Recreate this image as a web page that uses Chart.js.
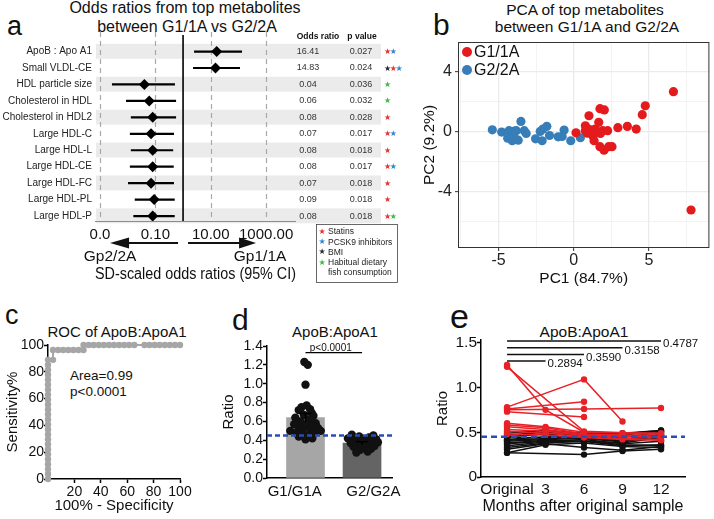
<!DOCTYPE html>
<html><head><meta charset="utf-8">
<script src="https://cdn.jsdelivr.net/npm/chart.js@4.4.1/dist/chart.umd.min.js"></script>
<style>
html,body{margin:0;padding:0;background:#fff;}
#root{position:relative;width:714px;height:519px;overflow:hidden;font-family:"Liberation Sans",Arial,sans-serif;color:#111;}
canvas{position:absolute;}
.t{position:absolute;white-space:nowrap;line-height:1;}
</style></head><body><div id="root"></div>
<script>
// ---------- Panel a: forest plot ----------
const metabolites = ['ApoB : Apo A1','Small VLDL-CE','HDL particle size','Cholesterol in HDL','Cholesterol in HDL2','Large HDL-C','Large HDL-L','Large HDL-CE','Large HDL-FC','Large HDL-PL','Large HDL-P'];
const oddsRatio = [16.41,14.83,0.04,0.06,0.08,0.07,0.08,0.08,0.07,0.09,0.08];
const ciLow  = [2.5,2.3,0.0027,0.0087,0.013,0.012,0.013,0.012,0.0103,0.018,0.016];
const ciHigh = [135,114,0.51,0.56,0.56,0.47,0.44,0.46,0.47,0.50,0.50];
const pValues = ['0.027','0.024','0.036','0.032','0.028','0.017','0.018','0.017','0.018','0.018','0.018'];
const adjustStars = [['S','P'],['B','S','P'],['F'],['F'],['S'],['S','P'],['S'],['S','P'],['S'],['S'],['S','F']];
const starLegend = [['S','Statins'],['P','PCSK9 inhibitors'],['B','BMI'],['F','Habitual dietary'],['','fish consumption']];
const xTickValuesA = [0.001,0.1,10,1000];
const xTickLabelsA = ['0.0','0.10','10.00','1000.00'];
// ---------- Panel b: PCA ----------
const pcaG1PC1 = [0.15,0.77,0.97,1.01,0.77,1.21,1.43,1.66,1.74,2.03,1.92,2.25,1.77,1.26,1.35,1.74,2.01,2.32,2.54,2.93,3.56,4.15,4.55,4.75,6.62,7.79,1.10,1.55,0.90];
const pcaG1PC2 = [-0.07,0.40,0.18,1.07,0.07,0.11,0.18,0.63,1.54,1.46,0.07,0.07,-0.11,-0.27,-0.60,-1.00,-1.23,-1.00,-1.00,0.27,0.36,0.18,1.14,1.74,2.68,-5.23,-0.05,0.00,-0.10];
const pcaG2PC1 = [-5.41,-4.79,-4.30,-3.82,-3.51,-3.29,-3.16,-4.39,-4.09,-3.69,-3.99,-2.54,-2.23,-2.05,-1.79,-2.10,-1.61,-1.04,-0.77,-0.64,-0.20,0.44,-4.15,-3.95];
const pcaG2PC2 = [0.13,-0.02,0.07,0.07,0.69,0.07,-0.11,-0.43,-0.60,-0.56,-0.27,-0.47,0.02,0.18,0.36,-0.60,-0.25,-0.34,-0.31,0.11,-0.60,-0.40,-0.05,0.05];
// ---------- Panel c: ROC ----------
const rocFPR  = [0,0,0,0,0,0,0,0,0,0,0,0,0,0,0,0,0,0,0,0,0,0,0,0,0,3.8,3.8,7.7,11.5,15.4,19.2,23.1,26.9,26.9,30.8,34.6,38.5,42.3,46.2,50,53.8,57.7,61.5,65.4,73.1,76.9,80.8,84.6,88.5,92.3,96.2,100];
const rocSens = [0,3.7,7.4,11.1,14.8,18.5,22.2,25.9,29.6,33.3,37,40.7,44.4,48.1,51.9,55.6,59.3,63,66.7,70.4,74.1,77.8,81.5,85.2,88.9,88.9,96.3,96.3,96.3,96.3,96.3,96.3,96.3,100,100,100,100,100,100,100,100,100,100,100,100,100,100,100,100,100,100,100];
// ---------- Panel d: bar + points ----------
const barGroups = ['G1/G1A','G2/G2A'];
const barMeans = [0.64,0.37];
const barSem = [0.045,0.015];
const barLabelPos = [-0.19,1.2];
const g1Values = [1.23,1.20,0.99,0.77,0.75,0.73,0.72,0.69,0.67,0.66,0.64,0.62,0.60,0.58,0.57,0.57,0.55,0.54,0.53,0.52,0.51,0.50,0.50,0.48,0.47,0.46,0.45,0.44,0.42,0.41];
const g1Jitter = [-0.02,0.04,0.0,0.02,-0.07,0.08,-0.12,0.11,-0.03,0.14,-0.18,0.06,-0.09,0.18,-0.2,0.02,0.12,-0.12,0.22,-0.04,0.09,-0.27,0.27,-0.16,0.15,-0.06,0.04,-0.12,0.12,0.0];
const g2Values = [0.46,0.45,0.44,0.43,0.42,0.41,0.41,0.40,0.39,0.38,0.38,0.37,0.36,0.35,0.34,0.33,0.32,0.31,0.30,0.28,0.27];
const g2Jitter = [-0.18,0.2,-0.05,0.12,-0.25,0.05,0.25,-0.12,0.17,-0.02,0.28,-0.2,0.1,-0.08,0.22,-0.15,0.05,0.16,-0.03,0.1,-0.1];
const ratioThreshold = 0.45;
// ---------- Panel e: longitudinal ----------
const months = [0,3,6,9,12];
const monthLabels = ['Original','3','6','9','12'];
const redSubjects = [
  [1.25,0.75,0.50,null,null],[1.23,null,0.51,null,0.48],[0.78,null,1.09,0.62,null],[0.76,null,0.84,null,null],
  [0.75,null,0.76,null,0.77],[0.73,null,0.67,null,null],[0.60,0.56,0.50,0.49,0.49],[0.58,0.55,0.48,0.47,0.47],
  [0.56,0.53,0.47,0.46,0.45],[0.53,0.51,0.46,0.45,0.44],[0.51,0.49,0.45,0.43,0.42],[0.48,0.47,0.44,0.42,0.41]];
const blackSubjects = [
  [0.27,null,0.25,0.29,0.31],[0.27,0.36,0.38,0.34,0.33],[0.31,0.37,0.33,0.30,0.34],[0.33,0.38,0.40,0.36,0.35],
  [0.35,0.39,0.40,0.35,0.36],[0.37,0.40,0.42,0.37,0.40],[0.38,0.41,0.40,0.38,0.44],[0.40,0.42,0.43,0.39,0.46],
  [0.41,0.43,0.44,0.40,0.47],[0.42,0.45,0.45,0.41,0.48],[0.44,0.44,0.46,0.44,0.50],[0.45,0.48,0.47,0.47,0.51],
  [0.47,0.50,0.48,0.48,0.52],[0.49,0.52,0.49,0.49,0.52]];
const sigMonths = [12,9,6,3];
const sigLabels = ['0.4787','0.3158','0.3590','0.2894'];

// ================= rendering =================
const FONT = "'Liberation Sans', Arial, sans-serif";
Chart.defaults.font.family = FONT;
Chart.defaults.color = '#111';
Chart.defaults.animation = false;
Chart.defaults.responsive = false;
Chart.defaults.events = [];
Chart.defaults.plugins.legend.display = false;
Chart.defaults.plugins.tooltip.enabled = false;

const root = document.getElementById('root');
function mk(left, top, w, h) {
  const c = document.createElement('canvas');
  c.width = w; c.height = h; c.style.left = left + 'px'; c.style.top = top + 'px';
  c.style.width = w + 'px'; c.style.height = h + 'px';
  root.appendChild(c); return c;
}
function txt(s, x, base, size, align) {
  const d = document.createElement('div'); d.className = 't'; d.textContent = s;
  d.style.fontSize = size + 'px'; d.style.top = (base - 0.847 * size) + 'px'; d.style.left = x + 'px';
  if (align === 'center') d.style.transform = 'translateX(-50%)';
  root.appendChild(d);
}
const starColors = {S:'#e8302e', P:'#2e86d6', B:'#2a2a2a', F:'#3dba3d'};

// ---- texts
txt('a', 7, 36, 27);
txt('Odds ratios from top metabolites', 185, 14, 16, 'center');
txt('between G1/1A vs G2/2A', 187, 33, 16, 'center');
txt('b', 433, 35, 30);
txt('PCA of top metabolites', 585, 15, 15.5, 'center');
txt('between G1/1A and G2/2A', 587, 32, 15.5, 'center');
txt('c', 5, 325, 27);
txt('ROC of ApoB:ApoA1', 117, 337, 15, 'center');
txt('Area=0.99', 70, 380, 13.5);
txt('p<0.0001', 70, 396, 13.5);
txt('d', 232, 330, 30);
txt('ApoB:ApoA1', 335, 337, 15, 'center');
txt('e', 450, 328, 34);
txt('ApoB:ApoA1', 584, 337, 15.5, 'center');

// ---- Panel a
const forestPlugin = {
  id: 'forest',
  beforeDatasetsDraw(chart) {
    const {ctx, chartArea: ca, scales: {x, y}} = chart;
    ctx.save();
    const step = y.getPixelForValue(1) - y.getPixelForValue(0);
    ctx.fillStyle = '#ebebeb';
    metabolites.forEach((_, i) => {
      if (i % 2 === 0) {
        const py = y.getPixelForValue(i);
        ctx.fillRect(ca.left + 1, py - step / 2 + 0.5, ca.right - ca.left + 84, step - 1.5);
      }
    });
    ctx.strokeStyle = '#a8a8a8'; ctx.lineWidth = 1.2; ctx.setLineDash([5, 4]);
    xTickValuesA.forEach(v => {
      const px = Math.round(x.getPixelForValue(v)) + 0.5;
      ctx.beginPath(); ctx.moveTo(px, ca.top - 11); ctx.lineTo(px, ca.bottom); ctx.stroke();
    });
    ctx.setLineDash([]);
    const p1 = x.getPixelForValue(1);
    ctx.strokeStyle = '#000'; ctx.lineWidth = 1.6;
    ctx.beginPath(); ctx.moveTo(p1, ca.top - 8); ctx.lineTo(p1, ca.bottom); ctx.stroke();
    ctx.strokeStyle = '#8c8c8c'; ctx.lineWidth = 1;
    ctx.beginPath(); ctx.moveTo(ca.left, ca.bottom + 0.5); ctx.lineTo(ca.right, ca.bottom + 0.5); ctx.stroke();
    ctx.restore();
  },
  afterDraw(chart) {
    const {ctx, chartArea: ca, scales: {x, y}} = chart;
    ctx.save();
    ctx.textAlign = 'center'; ctx.textBaseline = 'alphabetic'; ctx.fillStyle = '#111';
    ctx.font = 'bold 8.5px ' + FONT;
    ctx.fillText('Odds ratio', ca.right + 22, ca.top - 4);
    ctx.fillText('p value', ca.right + 66, ca.top - 4);
    ctx.textBaseline = 'middle';
    metabolites.forEach((_, i) => {
      const py = y.getPixelForValue(i);
      ctx.fillStyle = '#333'; ctx.font = '9px ' + FONT;
      ctx.fillText(oddsRatio[i].toFixed(2), ca.right + 12, py);
      ctx.fillText(pValues[i], ca.right + 65, py);
      ctx.font = '8px "DejaVu Sans", sans-serif';
      adjustStars[i].forEach((s, k) => { ctx.fillStyle = starColors[s]; ctx.fillText('\u2605', ca.right + 91.5 + k * 5.8, py + 0.5); });
    });
    // legend box
    ctx.strokeStyle = '#444'; ctx.lineWidth = 0.8;
    ctx.strokeRect(ca.right + 20.5, ca.bottom + 3.5, 81, 58);
    starLegend.forEach(([s, t], k) => {
      const ly = ca.bottom + 11 + k * 10.2;
      if (s) { ctx.font = '8px "DejaVu Sans", sans-serif'; ctx.fillStyle = starColors[s]; ctx.textAlign = 'center'; ctx.fillText('\u2605', ca.right + 26, ly); }
      ctx.font = '8.5px ' + FONT; ctx.fillStyle = '#222'; ctx.textAlign = 'left';
      ctx.fillText(t, ca.right + 32, ly);
    });
    // arrows
    const p1 = x.getPixelForValue(1);
    const ay = ca.bottom + 22;
    ctx.strokeStyle = '#111'; ctx.fillStyle = '#111'; ctx.lineWidth = 2;
    ctx.beginPath(); ctx.moveTo(p1 - 5, ay); ctx.lineTo(p1 - 56, ay); ctx.stroke();
    ctx.beginPath(); ctx.moveTo(p1 - 73, ay); ctx.lineTo(p1 - 54, ay - 5.5); ctx.lineTo(p1 - 54, ay + 5.5); ctx.closePath(); ctx.fill();
    ctx.beginPath(); ctx.moveTo(p1 + 5, ay); ctx.lineTo(p1 + 58, ay); ctx.stroke();
    ctx.beginPath(); ctx.moveTo(p1 + 73, ay); ctx.lineTo(p1 + 56, ay - 5.5); ctx.lineTo(p1 + 56, ay + 5.5); ctx.closePath(); ctx.fill();
    ctx.font = '15.5px ' + FONT; ctx.textAlign = 'center'; ctx.textBaseline = 'alphabetic';
    ctx.fillText('Gp2/2A', p1 - 73, ca.bottom + 40);
    ctx.fillText('Gp1/1A', p1 + 77, ca.bottom + 40);
    ctx.restore();
  }
};
const ciData = [];
metabolites.forEach((_, i) => { ciData.push({x: ciLow[i], y: i}, {x: ciHigh[i], y: i}, {x: null, y: null}); });
new Chart(mk(0, 0, 410, 300), {
  type: 'scatter',
  data: {datasets: [
    {data: metabolites.map((_, i) => ({x: oddsRatio[i], y: i})), pointStyle: 'rectRot', pointRadius: 5.5, backgroundColor: '#000', borderColor: '#000', borderWidth: 0},
    {data: ciData, showLine: true, spanGaps: false, borderColor: '#000', borderWidth: 2.2, pointRadius: 0}
  ]},
  options: {
    layout: {padding: {top: 43, right: 114, left: 0, bottom: 0}},
    scales: {
      x: {type: 'logarithmic', min: 0.00066, max: 12000,
        afterFit: s => { s.height = 79; },
        afterBuildTicks: s => { s.ticks = xTickValuesA.map(v => ({value: v})); },
        ticks: {callback: (v, i) => xTickLabelsA[i], font: {size: 15}, color: '#111', padding: 5, maxRotation: 0, autoSkip: false},
        grid: {display: false, drawTicks: false}, border: {display: false},
        title: {display: true, text: 'SD-scaled odds ratios (95% CI)', font: {size: 16}, color: '#111', padding: {top: 0, bottom: 16}}},
      y: {type: 'linear', reverse: true, min: -0.52, max: 10.3,
        afterFit: s => { s.width = 95; },
        afterBuildTicks: s => { s.ticks = metabolites.map((_, i) => ({value: i})); },
        ticks: {callback: v => metabolites[v], font: {size: 10}, color: '#222', padding: 3, autoSkip: false},
        grid: {display: false, drawTicks: false}, border: {display: false}}
    }
  },
  plugins: [forestPlugin]
});

// ---- Panel b
const xMajorB = [-5, 0, 5], yMajorB = [-4, 0, 4];
const pcaPlugin = {
  id: 'pca',
  afterDatasetsDraw(chart) {
    const {ctx, chartArea: ca} = chart;
    ctx.save();
    ctx.strokeStyle = '#333'; ctx.lineWidth = 1;
    ctx.strokeRect(ca.left + 0.5, ca.top + 0.5, ca.right - ca.left - 1, ca.bottom - ca.top - 1);
    chart.data.datasets.forEach((ds, k) => {
      const ly = ca.top + 10 + k * 18;
      ctx.fillStyle = ds.backgroundColor;
      ctx.beginPath(); ctx.arc(ca.left + 9, ly, 5, 0, Math.PI * 2); ctx.fill();
      ctx.fillStyle = '#111'; ctx.font = '16px ' + FONT; ctx.textBaseline = 'middle'; ctx.textAlign = 'left';
      ctx.fillText(ds.label, ca.left + 16, ly + 1);
    });
    ctx.restore();
  }
};
new Chart(mk(405, 28, 309, 262), {
  type: 'scatter',
  data: {datasets: [
    {label: 'G1/1A', data: pcaG1PC1.map((v, i) => ({x: v, y: pcaG1PC2[i]})), backgroundColor: '#e41a1c', pointRadius: 4.6, borderWidth: 0},
    {label: 'G2/2A', data: pcaG2PC1.map((v, i) => ({x: v, y: pcaG2PC2[i]})), backgroundColor: '#377eb8', pointRadius: 4.6, borderWidth: 0}
  ]},
  options: {
    layout: {padding: {top: 14, right: 2, left: 0, bottom: 0}},
    scales: {
      x: {type: 'linear', min: -7.69, max: 9.01,
        afterFit: s => { s.height = 42; },
        afterBuildTicks: s => { s.ticks = [-7.5, -5, -2.5, 0, 2.5, 5, 7.5].map(v => ({value: v})); },
        ticks: {callback: v => xMajorB.includes(v) ? String(v) : '', font: {size: 16}, color: '#222', padding: 0, maxRotation: 0, autoSkip: false},
        grid: {color: '#ebebeb', lineWidth: c => (c.tick && xMajorB.includes(c.tick.value)) ? 1.3 : 0.6,
               tickLength: 3, tickWidth: 1, tickColor: c => (c.tick && xMajorB.includes(c.tick.value)) ? '#333' : 'rgba(0,0,0,0)'},
        border: {display: false},
        title: {display: true, text: 'PC1 (84.7%)', font: {size: 15.5}, color: '#111', padding: {top: 0, bottom: 2}}},
      y: {type: 'linear', min: -7.77, max: 6.0,
        afterFit: s => { s.width = 53; },
        afterBuildTicks: s => { s.ticks = [-6, -4, -2, 0, 2, 4].map(v => ({value: v})); },
        ticks: {callback: v => yMajorB.includes(v) ? String(v) : '', font: {size: 16}, color: '#222', padding: 3, autoSkip: false},
        grid: {color: '#ebebeb', lineWidth: c => (c.tick && yMajorB.includes(c.tick.value)) ? 1.3 : 0.6,
               tickLength: 3, tickWidth: 1, tickColor: c => (c.tick && yMajorB.includes(c.tick.value)) ? '#333' : 'rgba(0,0,0,0)'},
        border: {display: false},
        title: {display: true, text: 'PC2 (9.2%)', font: {size: 15.5}, color: '#111', padding: {top: 15, bottom: 0}}}
    }
  },
  plugins: [pcaPlugin]
});

// ---- Prism-like axis helper
function prismAxis(extra) {
  return Object.assign({
    grid: {drawOnChartArea: false, drawTicks: true, tickLength: 4, tickColor: '#000', tickWidth: 1.5},
    border: {display: true, color: '#000', width: 1.5}
  }, extra);
}

// ---- Panel c
new Chart(mk(0, 330, 200, 189), {
  type: 'scatter',
  data: {datasets: [
    {data: rocFPR.map((v, i) => ({x: v, y: rocSens[i]})), showLine: true, borderColor: '#a6a6a6', borderWidth: 2,
     backgroundColor: '#a6a6a6', pointRadius: 3.2, pointBorderWidth: 0, clip: false}
  ]},
  options: {
    layout: {padding: {top: 15, right: 20, left: 0, bottom: 0}},
    scales: {
      x: prismAxis({type: 'linear', min: 0, max: 100,
        afterFit: s => { s.height = 40; },
        afterBuildTicks: s => { s.ticks = [20, 40, 60, 80, 100].map(v => ({value: v})); },
        ticks: {font: {size: 14}, color: '#111', padding: 1, maxRotation: 0, autoSkip: false},
        title: {display: true, text: '100% - Specificity', font: {size: 15}, color: '#111', padding: {top: 0, bottom: 4}}}),
      y: prismAxis({type: 'linear', min: 0, max: 100,
        afterFit: s => { s.width = 48; },
        afterBuildTicks: s => { s.ticks = [0, 20, 40, 60, 80, 100].map(v => ({value: v})); },
        ticks: {font: {size: 14}, color: '#111', padding: 0, autoSkip: false},
        title: {display: true, text: 'Sensitivity%', font: {size: 15}, color: '#111', padding: {top: 4, bottom: 0}}})
    }
  }
});

// ---- Panel d
const barPlugin = {
  id: 'barExtras',
  afterDatasetsDraw(chart) {
    const {ctx, chartArea: ca, scales: {x, y}} = chart;
    ctx.save();
    ctx.strokeStyle = '#000'; ctx.lineWidth = 1.5;
    barMeans.forEach((m, i) => {
      const px = x.getPixelForValue(i);
      ctx.beginPath(); ctx.moveTo(px, y.getPixelForValue(m - barSem[i])); ctx.lineTo(px, y.getPixelForValue(m + barSem[i])); ctx.stroke();
      ctx.beginPath(); ctx.moveTo(px - 6, y.getPixelForValue(m + barSem[i])); ctx.lineTo(px + 6, y.getPixelForValue(m + barSem[i])); ctx.stroke();
    });
    const by = y.getPixelForValue(1.33);
    ctx.lineWidth = 1.2;
    ctx.beginPath(); ctx.moveTo(x.getPixelForValue(0), by); ctx.lineTo(x.getPixelForValue(1), by); ctx.stroke();
    ctx.fillStyle = '#111'; ctx.font = '10px ' + FONT; ctx.textAlign = 'center'; ctx.textBaseline = 'alphabetic';
    ctx.fillText('p<0.0001', (x.getPixelForValue(0) + x.getPixelForValue(1)) / 2 - 3, by - 2);
    const ty = y.getPixelForValue(ratioThreshold);
    ctx.strokeStyle = '#2a4db5'; ctx.lineWidth = 2.5; ctx.setLineDash([5, 3]);
    ctx.beginPath(); ctx.moveTo(ca.left, ty); ctx.lineTo(ca.right, ty); ctx.stroke();
    ctx.restore();
  }
};
new Chart(mk(200, 330, 214, 189), {
  type: 'scatter',
  data: {datasets: [
    {type: 'scatter', data: g1Values.map((v, i) => ({x: g1Jitter[i], y: v})), backgroundColor: '#111', pointRadius: 4.2, borderWidth: 0},
    {type: 'scatter', data: g2Values.map((v, i) => ({x: 1 + g2Jitter[i], y: v})), backgroundColor: '#111', pointRadius: 4.2, borderWidth: 0},
    {type: 'bar', data: barMeans.map((m, i) => ({x: i, y: m})), backgroundColor: ['#a6a6a6', '#646464'], barThickness: 38}
  ]},
  options: {
    layout: {padding: {top: 16, right: 22, left: 0, bottom: 0}},
    scales: {
      x: {type: 'linear', min: -0.681, max: 1.53, offset: false,
        afterFit: s => { s.height = 41; },
        afterBuildTicks: s => { s.ticks = barLabelPos.map(v => ({value: v})); },
        ticks: {callback: (v, i) => barGroups[i], font: {size: 15}, color: '#111', padding: 5, maxRotation: 0, autoSkip: false},
        grid: {display: false, drawTicks: false, offset: false}, border: {display: true, color: '#000', width: 1.5}},
      y: prismAxis({type: 'linear', min: 0, max: 1.4,
        afterFit: s => { s.width = 67; },
        afterBuildTicks: s => { s.ticks = [0, 0.2, 0.4, 0.6, 0.8, 1.0, 1.2, 1.4].map(v => ({value: v})); },
        ticks: {callback: v => v.toFixed(1), font: {size: 14}, color: '#111', padding: 0, autoSkip: false},
        title: {display: true, text: 'Ratio', font: {size: 15}, color: '#111', padding: {top: 20, bottom: 0}}})
    }
  },
  plugins: [barPlugin]
});

// ---- Panel e
const lonPlugin = {
  id: 'lon',
  afterDatasetsDraw(chart) {
    const {ctx, chartArea: ca, scales: {x, y}} = chart;
    ctx.save();
    ctx.strokeStyle = '#111'; ctx.fillStyle = '#111'; ctx.lineWidth = 1.5;
    ctx.font = '11.5px ' + FONT; ctx.textAlign = 'left'; ctx.textBaseline = 'middle';
    sigMonths.forEach((m, k) => {
      const ly = ca.top + 1 + k * 6.7;
      ctx.beginPath(); ctx.moveTo(x.getPixelForValue(0), ly); ctx.lineTo(x.getPixelForValue(m), ly); ctx.stroke();
      ctx.fillText(sigLabels[k], x.getPixelForValue(m) + 2, ly + 3);
    });
    const ty = y.getPixelForValue(ratioThreshold);
    ctx.strokeStyle = '#2a4db5'; ctx.lineWidth = 2.5; ctx.setLineDash([6, 4]);
    ctx.beginPath(); ctx.moveTo(ca.left, ty); ctx.lineTo(ca.right, ty); ctx.stroke();
    ctx.restore();
  }
};
const lonDatasets = [];
redSubjects.forEach(s => lonDatasets.push({data: months.map((m, j) => ({x: m, y: s[j]})), borderColor: '#e82127', backgroundColor: '#e82127'}));
blackSubjects.forEach(s => lonDatasets.push({data: months.map((m, j) => ({x: m, y: s[j]})), borderColor: '#111', backgroundColor: '#111'}));
lonDatasets.forEach(d => Object.assign(d, {showLine: true, spanGaps: true, borderWidth: 1.5, pointRadius: 3.2, pointBorderWidth: 0}));
new Chart(mk(420, 330, 294, 189), {
  type: 'scatter',
  data: {datasets: lonDatasets},
  options: {
    layout: {padding: {top: 10, right: 29, left: 0, bottom: 0}},
    scales: {
      x: {type: 'linear', min: -2.03, max: 13.87,
        afterFit: s => { s.height = 42; },
        afterBuildTicks: s => { s.ticks = months.map(v => ({value: v})); },
        ticks: {callback: (v, i) => monthLabels[i], font: {size: 15.5}, color: '#111', padding: 3, maxRotation: 0, autoSkip: false},
        grid: {display: false, drawTicks: false}, border: {display: true, color: '#000', width: 1.5},
        title: {display: true, text: 'Months after original sample', font: {size: 16}, color: '#111', padding: {top: 0, bottom: 3}}},
      y: prismAxis({type: 'linear', min: 0, max: 1.53,
        afterFit: s => { s.width = 61; },
        afterBuildTicks: s => { s.ticks = [0, 0.5, 1.0, 1.5].map(v => ({value: v})); },
        ticks: {callback: v => v === 0 ? '0' : v.toFixed(1), font: {size: 15.5}, color: '#111', padding: 0, autoSkip: false},
        title: {display: true, text: 'Ratio', font: {size: 15}, color: '#111', padding: {top: 14, bottom: 0}}})
    }
  },
  plugins: [lonPlugin]
});
</script></body></html>
